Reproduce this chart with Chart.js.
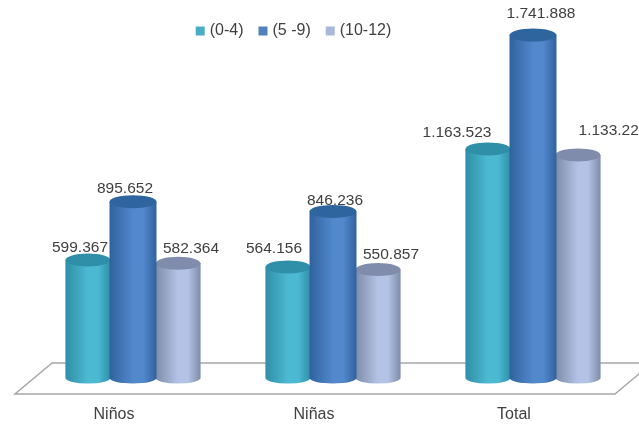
<!DOCTYPE html>
<html>
<head>
<meta charset="utf-8">
<style>
html, body { margin: 0; padding: 0; background: #fff; }
canvas { display: block; }
</style>
<script src="https://cdn.jsdelivr.net/npm/chart.js@4"></script>
</head>
<body>
<canvas id="popChart" width="639" height="425"></canvas>
<script>
const categories = ['Niños', 'Niñas', 'Total'];
const seriesNames = ['(0-4)', '(5 -9)', '(10-12)'];
const age0to4 = [599367, 564156, 1163523];
const age5to9 = [895652, 846236, 1741888];
const age10to12 = [582364, 550857, 1133221];

// hand placed value labels, offset from the top of each bar
const labelDx = [[-8, -14, -31], [-8, 2, 8], [13, 13, 35]];
const labelDy = [[-12, -18, -16], [-13, -11, -21], [-15, -15, -24]];

const FONT = '"Liberation Sans", Arial, sans-serif';

const shades = [
  { edge: '#2f8fa8', mid: '#4cb9d2', top: '#2f8ea8', legend: '#4bacc6' },
  { edge: '#2f629e', mid: '#5288cc', top: '#2f659f', legend: '#4f81bd' },
  { edge: '#7f8ca8', mid: '#b3c3e6', top: '#7f8cab', legend: '#aab9d9' }
];

function formatValue(v) {
  return String(v).replace(/\B(?=(\d{3})+$)/g, '.');
}

const floorPlugin = {
  id: 'floor',
  beforeDatasetsDraw(chart) {
    const { ctx, chartArea: a } = chart;
    ctx.save();
    ctx.strokeStyle = '#a6a6a6';
    ctx.lineWidth = 1.5;
    ctx.beginPath();
    ctx.moveTo(a.left + 19, a.bottom - 15);
    ctx.lineTo(a.left - 18, a.bottom + 16);
    ctx.lineTo(a.right - 18, a.bottom + 16);
    ctx.lineTo(a.right + 19, a.bottom - 15);
    ctx.closePath();
    ctx.stroke();
    ctx.restore();
  }
};

// repaint the library's bars as cylinders, blue last because it sits in front
const cylinderPlugin = {
  id: 'cylinder',
  afterDatasetsDraw(chart) {
    const ctx = chart.ctx;
    [0, 2, 1].forEach(i => {
      const s = shades[i];
      chart.getDatasetMeta(i).data.forEach(bar => {
        const w = bar.width + (i === 1 ? 2 : 0);
        const left = bar.x - w / 2;
        const right = bar.x + w / 2;
        const g = ctx.createLinearGradient(left, 0, right, 0);
        g.addColorStop(0, s.edge);
        g.addColorStop(0.5, s.mid);
        g.addColorStop(0.72, s.mid);
        g.addColorStop(1, s.edge);
        ctx.save();
        ctx.fillStyle = g;
        ctx.beginPath();
        ctx.moveTo(left, bar.y);
        ctx.lineTo(left, bar.base);
        ctx.ellipse(bar.x, bar.base, w / 2, 5.5, 0, Math.PI, 0, true);
        ctx.lineTo(right, bar.y);
        ctx.closePath();
        ctx.fill();
        ctx.fillStyle = s.top;
        ctx.beginPath();
        ctx.ellipse(bar.x, bar.y, w / 2, 6.5, 0, 0, Math.PI * 2);
        ctx.fill();
        ctx.restore();
      });
    });
  }
};

const valueLabelPlugin = {
  id: 'valueLabels',
  afterDraw(chart) {
    const ctx = chart.ctx;
    ctx.save();
    ctx.font = '15.5px ' + FONT;
    ctx.fillStyle = '#404040';
    ctx.textAlign = 'center';
    ctx.textBaseline = 'middle';
    chart.data.datasets.forEach((ds, i) => {
      chart.getDatasetMeta(i).data.forEach((bar, j) => {
        ctx.fillText(formatValue(ds.data[j]), bar.x + labelDx[i][j], bar.y + labelDy[i][j]);
      });
    });
    ctx.restore();
  }
};

// legend floats over the plot and sits left of centre in the original
const legendFloatPlugin = {
  id: 'legendFloat',
  beforeLayout(chart) {
    const legend = chart.legend;
    const fit = legend.fit;
    legend.fit = function () {
      fit.call(this);
      this.height = 0;
    };
  },
  afterLayout(chart) {
    const legend = chart.legend;
    legend.left -= 38;
    legend.right -= 38;
    legend.top += 1;
    legend.bottom = legend.top + 40;
  }
};

// thick border on a small box keeps the swatch close to its text
function makeDataset(i, values) {
  return {
    label: seriesNames[i],
    data: values,
    backgroundColor: shades[i].legend,
    borderColor: shades[i].legend,
    borderWidth: 6
  };
}

new Chart(document.getElementById('popChart'), {
  type: 'bar',
  data: {
    labels: categories,
    datasets: [makeDataset(0, age0to4), makeDataset(1, age5to9), makeDataset(2, age10to12)]
  },
  options: {
    responsive: false,
    animation: false,
    devicePixelRatio: 1,
    layout: { padding: { left: 33, right: 6, top: 4, bottom: 2 } },
    datasets: { bar: { categoryPercentage: 0.675, barPercentage: 1 } },
    plugins: {
      tooltip: { enabled: false },
      legend: {
        position: 'top',
        align: 'center',
        labels: {
          boxWidth: 3,
          boxHeight: 3,
          padding: 18,
          color: '#404040',
          font: { family: FONT, size: 16 }
        }
      }
    },
    scales: {
      x: {
        grid: { display: false },
        border: { display: false },
        afterFit(scale) { scale.height = 45; },
        ticks: { color: '#404040', padding: 19, labelOffset: -19, font: { family: FONT, size: 16 }, maxRotation: 0 }
      },
      y: { display: false, min: 0, max: 1900000 }
    }
  },
  plugins: [floorPlugin, cylinderPlugin, valueLabelPlugin, legendFloatPlugin]
});
</script>
</body>
</html>
